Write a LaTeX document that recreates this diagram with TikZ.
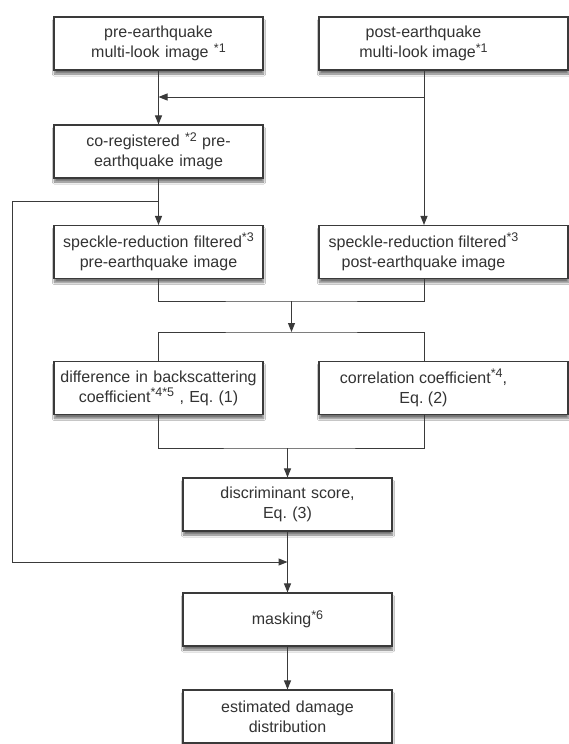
\documentclass[tikz,border=0pt]{standalone}
\usepackage{fontspec}
\setmainfont{Liberation Sans}
\usetikzlibrary{arrows.meta,shadows.blur}

\definecolor{liniengrau}{HTML}{3A3A3A}
\definecolor{textgrau}{HTML}{333333}

\tikzset{
    kasten/.style={draw=liniengrau, line width=1.1pt, fill=white, text=textgrau,
        minimum height=53pt, font=\fontsize{16}{20}\selectfont,
        blur shadow={shadow xshift=0.5pt, shadow yshift=-4pt, shadow blur steps=6, shadow opacity=55}},
    links/.style={kasten, text width=201pt, inner xsep=4pt, align=center},
    breit/.style={kasten, inner xsep=0pt, minimum width=249pt},
    pfeil/.style={-{Triangle[length=9pt,width=7pt]}},
    linie/.style={draw=liniengrau, line width=1pt}
}
\newcommand{\rechts}[1]{\parbox{209pt}{\centering #1}\hspace*{40pt}}
\newcommand{\hoch}[1]{\raisebox{5.5pt}{\fontsize{12.5}{12.5}\selectfont #1}}

\begin{document}
\begin{tikzpicture}[x=1pt, y=1pt, every path/.style={linie}]
    \useasboundingbox[fill=white, draw=none] (0,0) rectangle (569,-744);
    \path node[links] (PRE) at (158.5,-43.5) {pre-earthquake\\ multi-look image \hoch{*1}}
        node[breit] (POST) at (443.5,-43.5) {\rechts{post-earthquake\\ multi-look image\hoch{*1}}}
        node[links] (CO) at (158.5,-151.5) {co-registered \hoch{*2} pre-\\ earthquake image}
        node[links] (SPRE) at (158.5,-252) {speckle-reduction filtered\hoch{*3}\\ pre-earthquake image}
        node[breit] (SPOST) at (443.5,-252) {\rechts{speckle-reduction filtered\hoch{*3}\\ post-earthquake image}}
        node[links] (DIFF) at (158.5,-388) {difference in backscattering\\ coefficient\hoch{*4*5} , Eq.~(1)}
        node[breit] (CORR) at (443.5,-388) {\rechts{correlation coefficient\hoch{*4},\\ Eq.~(2)}}
        node[links] (DS) at (287.5,-504.5) {discriminant score,\\ Eq.~(3)}
        node[links] (MASK) at (287.5,-619.5) {masking\hoch{*6}}
        node[links] (EST) at (287.5,-716.5) {estimated damage\\ distribution};
    \coordinate (R) at (424,0);
    \coordinate (A1) at (424,-97);
    \coordinate (A2) at (158.5,-201);
    \coordinate (A3) at (12,-562);
    \coordinate (A4) at (291.5,-301);
    \coordinate (A5) at (291.5,-332);
    \coordinate (A6) at (287.5,-448);
    % linke und rechte Spalte
    \draw[pfeil] (PRE) -- (CO);
    \draw[pfeil] (R |- POST.south) -- (R |- SPOST.north);
    \draw[pfeil] (A1) -- (A1 -| PRE.south);
    \draw[pfeil] (CO) -- (SPRE);
    \draw[pfeil] (A2) -| (A3) -- (A3 -| DS.south);
    % zusammenfuehren und verzweigen
    \draw (SPRE.south) |- (A4) -| (R |- SPOST.south);
    \draw[pfeil] (A4) -- (A5);
    \draw (DIFF.north) |- (A5) -| (R |- CORR.north);
    \draw (DIFF.south) |- (A6) -| (R |- CORR.south);
    \draw[pfeil] (A6) -- (DS.north);
    \draw[pfeil] (DS) -- (MASK);
    \draw[pfeil] (MASK) -- (EST);
\end{tikzpicture}
\end{document}
